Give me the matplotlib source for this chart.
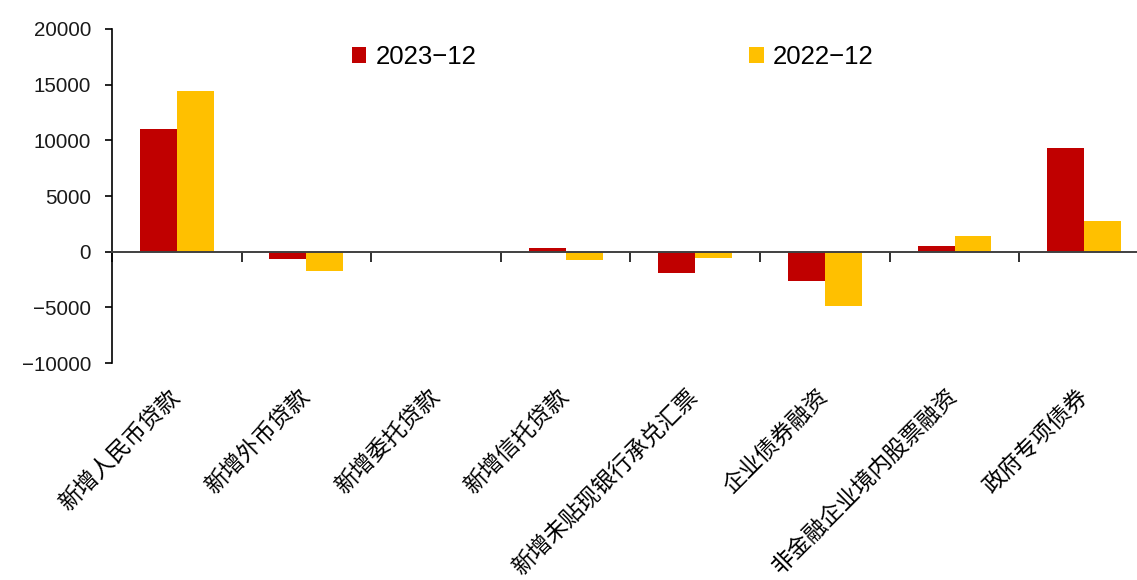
import matplotlib.pyplot as plt
import numpy as np
from matplotlib.transforms import blended_transform_factory

# data (亿元)
categories = ['新增人民币贷款', '新增外币贷款', '新增委托贷款', '新增信托贷款',
              '新增未贴现银行承兑汇票', '企业债券融资', '非金融企业境内股票融资', '政府专项债券']
val_2023 = [11000, -630, 10, 350, -1900, -2670, 480, 9300]
val_2022 = [14400, -1700, -50, -780, -570, -4840, 1440, 2780]
series_names = ['2023\u221212', '2022\u221212']
yticks = [-10000, -5000, 0, 5000, 10000, 15000, 20000]

plt.rcParams['font.family'] = ['Liberation Sans', 'DejaVu Sans']

fig = plt.figure(figsize=(11.37, 5.8), dpi=100)
ax = fig.add_axes([0.0985, 0.374, 0.912, 0.576])

x = np.arange(len(categories))
w = 0.285
ax.bar(x - w / 2, val_2023, w, color='#C00000', label=series_names[0])
ax.bar(x + w / 2, val_2022, w, color='#FFC000', label=series_names[1])

ax.set_xlim(-0.5, len(categories) - 0.5)
ax.set_ylim(-10000, 20000)
ax.set_yticks(yticks)
ax.tick_params(axis='y', labelsize=14.8, length=5, width=1.2, pad=10,
               direction='out', colors='black', labelcolor='#1a1a1a')

# zero line with boundary ticks
ax.spines['bottom'].set_position(('data', 0))
ax.spines['bottom'].set_color('#404040')
ax.spines['bottom'].set_linewidth(1.4)
ax.spines['top'].set_visible(False)
ax.spines['right'].set_visible(False)
ax.spines['left'].set_linewidth(1.2)
ax.set_xticks(np.arange(len(categories) + 1) - 0.5)
ax.set_xticklabels([])
ax.tick_params(axis='x', length=7, width=1.3, direction='out', color='#202020')

trans = blended_transform_factory(ax.transData, ax.transAxes)
for i, name in enumerate(categories):
    ax.text(i + 0.06, -0.066, name, transform=trans, rotation=45,
            ha='right', va='top', fontsize=16.5,
            family=['Noto Sans CJK SC', 'DejaVu Sans'], color='black')

ax.legend(loc='upper left', bbox_to_anchor=(0.231, 0.952), ncol=2, frameon=False,
          fontsize=18.5, handlelength=0.58, handleheight=0.58, handletextpad=0.35,
          columnspacing=10.6, borderpad=0, borderaxespad=0)

plt.savefig('out.png', dpi=100)
